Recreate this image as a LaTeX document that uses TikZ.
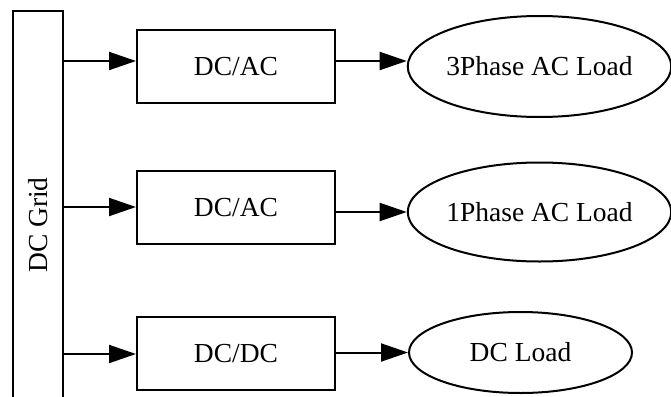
\documentclass[tikz,border=0pt]{standalone}
\usepackage{fontspec}
\setmainfont{Liberation Serif}
\usetikzlibrary{arrows.meta,shapes.geometric}
\begin{document}
\begin{tikzpicture}[x=1pt,y=-1pt,
  box/.style={draw,line width=2pt,rectangle,inner sep=0pt,font=\fontsize{27.5}{30}\selectfont},
  load/.style={draw,line width=2pt,ellipse,inner sep=0pt,font=\fontsize{27.5}{30}\selectfont},
  link/.style={line width=2pt,-{Triangle[length=27pt,width=18pt]}}]
\useasboundingbox (0,0) rectangle (671,396);
\clip (0,0) rectangle (671,396);
\node[box,minimum width=50pt,minimum height=429pt] (grid) at (38,225.5) {};
\node[font=\fontsize{27.5}{30}\selectfont,rotate=90] (gridlabel) at (38,225) {DC Grid};
\node[box,minimum width=198pt,minimum height=73pt] (c1) at (236,66.5) {DC/AC};
\node[box,minimum width=198pt,minimum height=73pt] (c2) at (236,207.5) {DC/AC};
\node[box,minimum width=198pt,minimum height=73pt] (c3) at (236,353.5) {DC/DC};
\node[load,minimum width=261pt,minimum height=101pt] (l1) at (539.5,66.5) {3Phase AC Load};
\node[load,minimum width=261pt,minimum height=99pt] (l2) at (539.5,212) {1Phase AC Load};
\node[load,minimum width=223pt,minimum height=81pt] (l3) at (520.5,352.5) {DC Load};
\coordinate (g1) at (grid.east |- 0,61);
\coordinate (g2) at (grid.east |- 0,207);
\coordinate (g3) at (grid.east |- 0,354);
\draw[link] (g1) -- (c1.west |- g1);
\draw[link] (g2) -- (c2.west |- g2);
\draw[link] (g3) -- (c3.west |- g3);
\draw[link] (c1.east |- 0,61) -- (l1.west |- 0,61);
\draw[link] (c2.east |- l2) -- (l2.west);
\draw[link] (c3.east |- l3) -- (l3.west);
\end{tikzpicture}
\end{document}
